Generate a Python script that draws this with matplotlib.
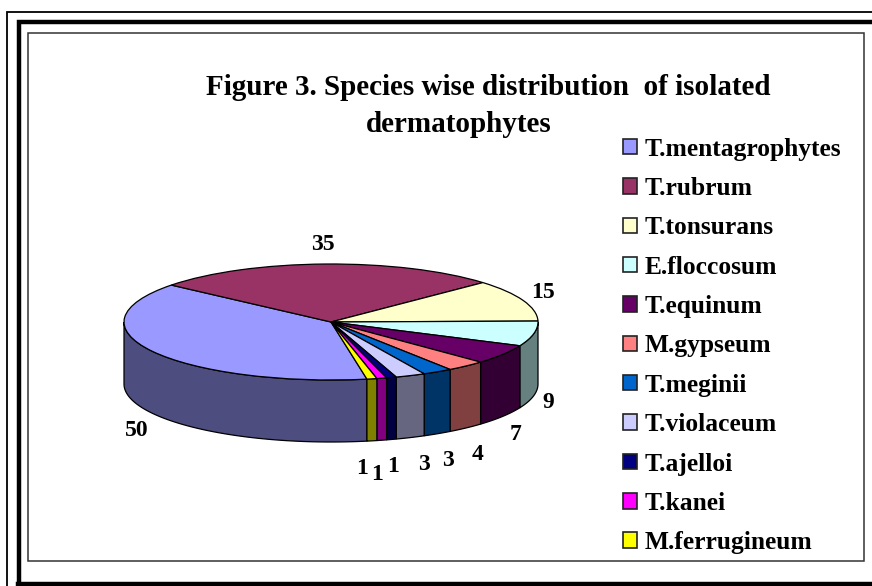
import numpy as np
import matplotlib
matplotlib.use("Agg")
import matplotlib.pyplot as plt
from matplotlib.patches import Rectangle

species = ["T.mentagrophytes", "T.rubrum", "T.tonsurans", "E.floccosum", "T.equinum",
           "M.gypseum", "T.meginii", "T.violaceum", "T.ajelloi", "T.kanei", "M.ferrugineum"]
counts = [50, 35, 15, 9, 7, 4, 3, 3, 1, 1, 1]
top_colors = ["#9999FF", "#993366", "#FFFFCC", "#CCFFFF", "#660066", "#FF8080",
              "#0066CC", "#CCCCFF", "#000080", "#FF00FF", "#FFFF00"]
side_colors = ["#4D4D80", "#4D1A33", "#808066", "#668080", "#330033", "#804040",
               "#003366", "#666680", "#000040", "#800080", "#808000"]
title_lines = ["Figure 3. Species wise distribution  of isolated", "dermatophytes"]
label_px = [(137, 430), (323, 245), (543, 293), (548, 402), (516, 435), (478, 454),
            (448, 461), (424, 464), (393, 466), (377, 474), (362, 468)]

W, H = 872, 586
plt.rcParams["font.family"] = "Liberation Serif"
plt.rcParams["font.weight"] = "bold"
fig = plt.figure(figsize=(W / 100, H / 100), dpi=100, facecolor="white")


def px_axes(l, t, r, b, **kw):
    return fig.add_axes([l / W, 1 - b / H, (r - l) / W, (b - t) / H], **kw)


# Pie: unit circle maps to the ellipse, the wall hangs below it
cx, cy, rx, ry, depth_px = 331, 322, 207, 58, 62
depth = depth_px / ry
ax = px_axes(cx - rx, cy - ry, cx + rx, cy + ry + depth_px)
start = -80
wedges, _ = ax.pie(counts, colors=top_colors, startangle=start, counterclock=False,
                   wedgeprops=dict(edgecolor="black", linewidth=0.9, zorder=5))
ax.set_aspect("auto")
ax.set_xlim(-1, 1)
ax.set_ylim(-1 - depth, 1)
ax.axis("off")
for w in wedges:
    w.set_clip_on(False)

# Wall for the front half of the rim
for w, c in zip(wedges, side_colors):
    a0, a1 = w.theta1 % 360, w.theta2 % 360
    spans = [(a0, a1)] if a1 > a0 else [(a0, 360), (0, a1)]
    for s0, s1 in spans:
        s0, s1 = max(s0, 180), min(s1, 360)
        if s1 <= s0:
            continue
        t = np.radians(np.linspace(s0, s1, 80))
        x, y = np.cos(t), np.sin(t)
        ax.fill(np.r_[x, x[::-1]], np.r_[y, y[::-1] - depth], facecolor=c,
                edgecolor="black", linewidth=0.9, zorder=3, clip_on=False)

# Overlay in pixel coordinates: frames, title, value labels
ov = px_axes(0, 0, W, H)
ov.set_xlim(0, W)
ov.set_ylim(H, 0)
ov.axis("off")
ov.patch.set_alpha(0)
ov.set_zorder(5)
ov.plot([7, 7, W], [H, 12, 12], color="black", lw=1.3, solid_joinstyle="miter")
ov.plot([18.5, 18.5, W], [H, 22, 22], color="black", lw=3.2, solid_joinstyle="miter")
ov.plot([18, W], [583.5, 583.5], color="black", lw=3.2)
ov.add_patch(Rectangle((28, 33), 836, 528, fill=False, edgecolor="#333333", lw=1.1))

ov.text(488, 87.5, title_lines[0], ha="center", va="center", fontsize=21)
ov.text(459, 124, title_lines[1], ha="center", va="center", fontsize=21)
for (lx, ly), v in zip(label_px, counts):
    ov.text(lx, ly, str(v), ha="center", va="center", fontsize=17)

leg = fig.legend(wedges, species, loc="upper left",
                 bbox_to_anchor=(615 / W, 1 - 130 / H), frameon=False, fontsize=18.4,
                 handlelength=0.55, handleheight=0.55, handletextpad=0.32,
                 labelspacing=0.64, borderpad=0.3, borderaxespad=0)
leg.set_zorder(6)
for h in leg.legend_handles:
    h.set_edgecolor("#222222")
    h.set_linewidth(1.2)

fig.savefig("out.png", dpi=100)
